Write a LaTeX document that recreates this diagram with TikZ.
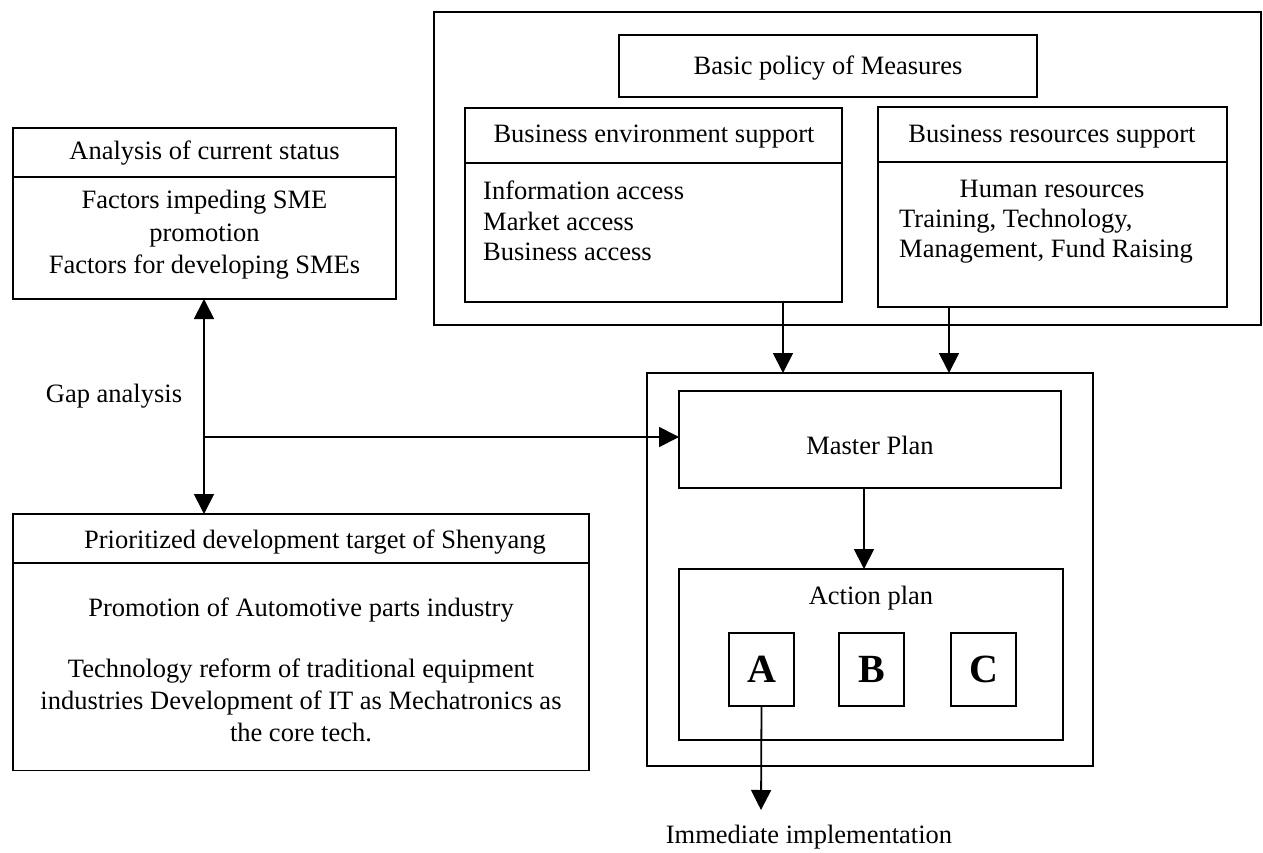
\documentclass[tikz,border=0pt]{standalone}
\usepackage{fontspec}
\setmainfont{Liberation Serif}
\usetikzlibrary{arrows.meta}
\begin{document}
\begin{tikzpicture}[x=1pt,y=-1pt,
  box/.style={draw, line width=1.8pt, rectangle, inner sep=0pt, outer sep=0pt},
  txt/.style={inner sep=0pt, font=\fontsize{26.5}{31}\selectfont},
  big/.style={inner sep=0pt, font=\fontsize{40}{44}\selectfont\bfseries},
  arr/.style={line width=1.8pt, -{Triangle[length=20pt,width=20pt]}},
  darr/.style={line width=1.8pt, {Triangle[length=20pt,width=20pt]}-{Triangle[length=20pt,width=20pt]}}]
\useasboundingbox (0,0) rectangle (1263,853);
\fill[white] (0,0) rectangle (1263,853);

% measures block
\node[box, minimum width=827pt, minimum height=313pt] (outer) at (847.5,168.5) {};
\node[box, minimum width=418pt, minimum height=62pt] (basic) at (828,66) {};
\node[txt] (basict) at (828,68) {Basic policy of Measures};

\node[box, minimum width=377pt, minimum height=55pt] (envhead) at (653.5,135.5) {};
\node[box, minimum width=377pt, minimum height=139pt] (envbody) at (653.5,232.5) {};
\node[txt] (envheadt) at (654,137) {Business environment support};
\node[txt, anchor=west, align=left, font=\fontsize{26.5}{30.5}\selectfont] (envbodyt) at (483,221)
  {Information access\\Market access\\Business access};

\node[box, minimum width=349pt, minimum height=55pt] (reshead) at (1052.5,134.5) {};
\node[box, minimum width=349pt, minimum height=145pt] (resbody) at (1052.5,234.5) {};
\node[txt] (resheadt) at (1052,137) {Business resources support};
\node[txt] (resbodyt1) at (1052,189) {Human resources};
\node[txt, anchor=west, align=left, font=\fontsize{26.5}{30.5}\selectfont] (resbodyt2) at (899,236)
  {Training, Technology,\\Management, Fund Raising};

% analysis block
\node[box, minimum width=383pt, minimum height=49pt] (anahead) at (204.5,152.5) {};
\node[box, minimum width=383pt, minimum height=122pt] (anabody) at (204.5,238) {};
\node[txt] (anaheadt) at (204.5,153) {Analysis of current status};
\node[txt, align=center, font=\fontsize{26.5}{32.5}\selectfont] (anabodyt) at (204.5,235)
  {Factors impeding SME\\promotion\\Factors for developing SMEs};

% target block
\node[box, minimum width=576pt, minimum height=49pt] (prihead) at (301,538.5) {};
\node[box, minimum width=576pt, minimum height=207pt] (pribody) at (301,667) {};
\node[txt] (priheadt) at (315,542) {Prioritized development target of Shenyang};
\node[txt] (pribodyt1) at (301,610) {Promotion of Automotive parts industry};
\node[txt, align=center, font=\fontsize{26.5}{32}\selectfont] (pribodyt2) at (301,700)
  {Technology reform of traditional equipment\\industries Development of IT as Mechatronics as\\the core tech.};

\node[txt] (gap) at (114,396) {Gap analysis};

% plan block
\node[box, minimum width=446pt, minimum height=393pt] (mouter) at (870,569.5) {};
\node[box, minimum width=382pt, minimum height=97pt] (mp) at (870,439.5) {};
\node[txt] (mpt) at (870,445) {Master Plan};
\node[box, minimum width=384pt, minimum height=171pt] (ap) at (871,654.5) {};
\node[txt] (apt) at (871,598) {Action plan};
\node[box, minimum width=65pt, minimum height=73pt] (ba) at (761.5,669.5) {};
\node[box, minimum width=65pt, minimum height=73pt] (bb) at (871.5,669.5) {};
\node[box, minimum width=65pt, minimum height=73pt] (bc) at (983.5,669.5) {};
\node[big] (bat) at (761.5,669) {A};
\node[big] (bbt) at (871.5,669) {B};
\node[big] (bct) at (983.5,669) {C};
\node[txt] (imm) at (809,837) {Immediate implementation};

% connector anchors
\coordinate (ex) at (783,0);
\coordinate (rx) at (949,0);
\coordinate (mx) at (864,0);
\coordinate (gapj) at (204,437);
\coordinate (immtip) at (761,810);

% connectors
\draw[arr] (envbody.south -| ex) -- (mouter.north -| ex);
\draw[arr] (resbody.south -| rx) -- (mouter.north -| rx);
\draw[darr] (anabody.south -| gapj) -- (prihead.north -| gapj);
\draw[arr] (gapj) -- (gapj -| mp.west);
\draw[arr] (mp.south -| mx) -- (ap.north -| mx);
\draw[arr] (ba.south) -- (immtip);
\end{tikzpicture}
\end{document}
